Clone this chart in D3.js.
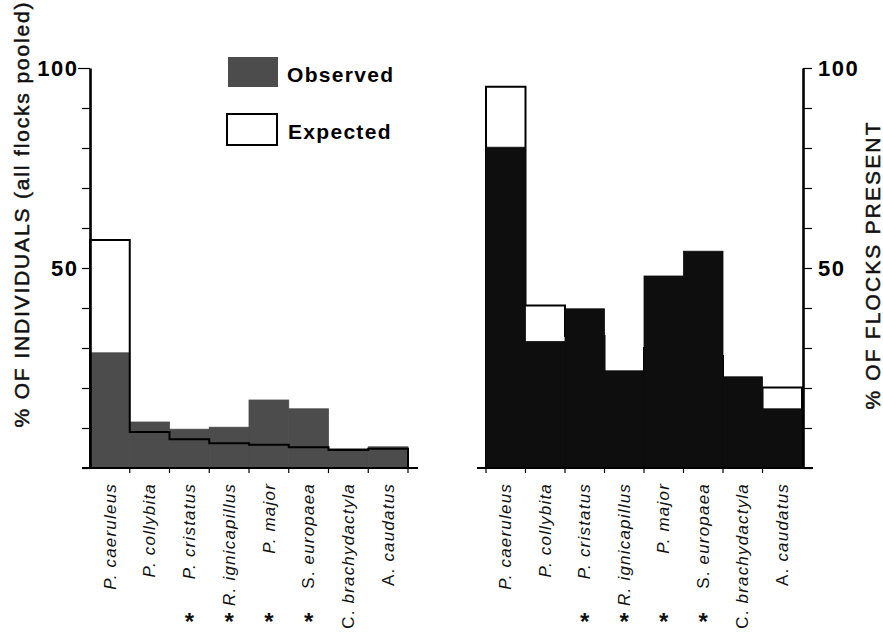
<!DOCTYPE html>
<html>
<head>
<meta charset="utf-8">
<script src="https://cdn.jsdelivr.net/npm/d3@7"></script>
<style>
  body { margin: 0; background: #fff; }
  svg { display: block; font-family: "Liberation Sans", Arial, sans-serif; }
</style>
</head>
<body>
<svg id="chart" width="883" height="642"></svg>
<script>
// species, genus initial separate so it can be set upright where the print does
const genus = ["P.", "P.", "P.", "R.", "P.", "S.", "C.", "A."]
const species = ["caeruleus", "collybita", "cristatus", "ignicapillus", "major", "europaea", "brachydactyla", "caudatus"]
const genusItalic = [true, true, true, true, true, false, false, false]
const starred = [false, false, true, true, true, true, false, false]

// left panel: % of individuals (all flocks pooled)
const indivObserved = [28.8, 11.5, 9.7, 10.2, 17.0, 14.8, 4.8, 5.3]
const indivExpected = [57.0, 9.0, 7.2, 6.2, 5.8, 5.2, 4.5, 4.8]

// right panel: % of flocks present
const flocksObserved = [80.2, 31.6, 39.8, 24.3, 48.0, 54.2, 22.8, 14.8]
const flocksExpected = [95.3, 40.6, 33.0, 21.0, 30.0, 28.0, 15.0, 20.1]

const yTicks = [0, 10, 20, 30, 40, 50, 60, 70, 80, 90, 100]
const yLabels = [50, 100]

const svg = d3.select("#chart")
const keys = species.map((s, i) => i)

const y = d3.scaleLinear().domain([0, 100]).range([468, 68])

const xLeft = d3.scaleBand().domain(keys).range([90, 408])
const xRight = d3.scaleBand().domain(keys).range([486, 802])

const leftGrey = "#4c4c4c"
const rightBlack = "#0e0e0e"

function stepPath(x, values) {
  let p = d3.path()
  p.moveTo(x(0), y(0))
  values.forEach((v, i) => {
    p.lineTo(x(i), y(v))
    p.lineTo(x(i) + x.bandwidth(), y(v))
  })
  p.lineTo(x(values.length - 1) + x.bandwidth(), y(0))
  return p.toString()
}

// lineOnTop: the expected outline shows through the grey bars on the left,
// on the right the black bars cover it
function panel(x, observed, expected, fill, boundaries, baseX, lineOnTop) {
  const g = svg.append("g")

  const drawLine = () => g.append("path")
    .attr("d", stepPath(x, expected))
    .attr("fill", "none")
    .attr("stroke", "#000")
    .attr("stroke-width", 2)

  if (!lineOnTop) drawLine()

  g.selectAll("rect.obs")
    .data(observed)
    .join("rect")
    .attr("class", "obs")
    .attr("x", (d, i) => x(i))
    .attr("width", x.bandwidth())
    .attr("y", d => y(d))
    .attr("height", d => y(0) - y(d))
    .attr("fill", fill)
    .attr("stroke", fill)
    .attr("stroke-width", 0.8)

  if (lineOnTop) drawLine()

  // base line and the little ticks between the bars
  g.append("line")
    .attr("x1", baseX[0]).attr("x2", baseX[1])
    .attr("y1", y(0)).attr("y2", y(0))
    .attr("stroke", "#000").attr("stroke-width", 2)

  g.selectAll("line.btick")
    .data(boundaries)
    .join("line")
    .attr("class", "btick")
    .attr("x1", d => d).attr("x2", d => d)
    .attr("y1", y(0)).attr("y2", y(0) + 5)
    .attr("stroke", "#000").attr("stroke-width", 1.2)

  // species names, rotated
  const lab = g.selectAll("g.lab")
    .data(keys)
    .join("g")
    .attr("class", "lab")
    .attr("transform", i => `translate(${x(i) + x.bandwidth() / 2},483) rotate(-90)`)

  const t = lab.append("text")
    .attr("text-anchor", "end")
    .attr("dy", "0.33em")
    .attr("font-size", 17)
    .attr("letter-spacing", 1.2)
    .attr("fill", "#111")
  t.append("tspan")
    .attr("font-style", i => genusItalic[i] ? "italic" : "normal")
    .text(i => genus[i] + " ")
  t.append("tspan")
    .attr("font-style", "italic")
    .text(i => species[i])

  g.selectAll("text.star")
    .data(keys.filter(i => starred[i]))
    .join("text")
    .attr("class", "star")
    .attr("x", i => x(i) + x.bandwidth() / 2)
    .attr("y", 630)
    .attr("text-anchor", "middle")
    .attr("font-size", 24)
    .attr("font-weight", "bold")
    .attr("fill", "#111")
    .text("*")

  return g
}

panel(xLeft, indivObserved, indivExpected, leftGrey,
  keys.map(i => xLeft(i) + xLeft.bandwidth()), [82, 418], true)
panel(xRight, flocksObserved, flocksExpected, rightBlack,
  keys.map(i => xRight(i)), [477, 813], false)

// y axes
const fmt = d => yLabels.includes(d) ? d : ""

const axL = svg.append("g")
  .attr("transform", "translate(90,0)")
  .call(d3.axisLeft(y).tickValues(yTicks).tickSize(8).tickSizeOuter(0).tickPadding(5).tickFormat(fmt))
const axR = svg.append("g")
  .attr("transform", "translate(803,0)")
  .call(d3.axisRight(y).tickValues(yTicks).tickSize(9).tickSizeOuter(0).tickPadding(6).tickFormat(fmt))

;[axL, axR].forEach(ax => {
  ax.select(".domain").attr("stroke-width", 2.6).attr("stroke", "#000")
  ax.selectAll(".tick line").attr("stroke-width", 1.2).attr("stroke", "#000")
  ax.selectAll(".tick text")
    .attr("font-size", 22)
    .attr("font-weight", "bold")
    .attr("letter-spacing", 1.5)
    .attr("fill", "#000")
})
axL.selectAll(".tick text").attr("dx", 1.5)
axL.selectAll(".tick line").filter(d => d === 100).attr("x2", -12)

// axis titles
svg.append("text")
  .attr("transform", "translate(21,215) rotate(-90)")
  .attr("text-anchor", "middle")
  .attr("dy", "0.36em")
  .attr("font-size", 21)
  .attr("fill", "#111")
  .attr("stroke", "#111").attr("stroke-width", 0.5)
  .attr("textLength", 425).attr("lengthAdjust", "spacing")
  .text("% OF INDIVIDUALS (all flocks pooled)")

svg.append("text")
  .attr("transform", "translate(872,266) rotate(-90)")
  .attr("text-anchor", "middle")
  .attr("dy", "0.36em")
  .attr("font-size", 21)
  .attr("fill", "#111")
  .attr("stroke", "#111").attr("stroke-width", 0.5)
  .attr("textLength", 287).attr("lengthAdjust", "spacing")
  .text("% OF FLOCKS PRESENT")

// legend
const legend = svg.append("g")
legend.append("rect")
  .attr("x", 228).attr("y", 57).attr("width", 50).attr("height", 30)
  .attr("fill", leftGrey)
legend.append("rect")
  .attr("x", 227).attr("y", 114).attr("width", 50).attr("height", 31)
  .attr("fill", "#fff").attr("stroke", "#000").attr("stroke-width", 2)
legend.append("text")
  .attr("x", 287).attr("y", 82)
  .attr("font-size", 21).attr("font-weight", "bold").attr("letter-spacing", 1.3)
  .text("Observed")
legend.append("text")
  .attr("x", 288).attr("y", 139)
  .attr("font-size", 21).attr("font-weight", "bold").attr("letter-spacing", 1.3)
  .text("Expected")
</script>
</body>
</html>
